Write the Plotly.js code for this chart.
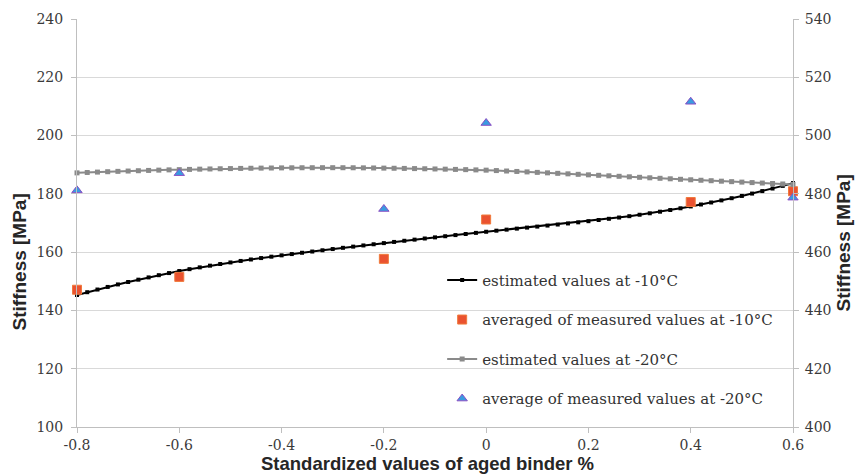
<!DOCTYPE html>
<html>
<head>
<meta charset="utf-8">
<script src="https://cdn.plot.ly/plotly-3.0.1.min.js"></script>
<style>html,body{margin:0;padding:0;background:#fff;}#chart{width:859px;height:475px;}</style>
</head>
<body>
<div id="chart"></div>
<script>
// x positions of the estimated-curve markers (standardized aged binder %)
const estX = [-0.80,-0.78,-0.76,-0.74,-0.72,-0.70,-0.68,-0.66,-0.64,-0.62,
  -0.60,-0.58,-0.56,-0.54,-0.52,-0.50,-0.48,-0.46,-0.44,-0.42,
  -0.40,-0.38,-0.36,-0.34,-0.32,-0.30,-0.28,-0.26,-0.24,-0.22,
  -0.20,-0.18,-0.16,-0.14,-0.12,-0.10,-0.08,-0.06,-0.04,-0.02,
  0.00,0.02,0.04,0.06,0.08,0.10,0.12,0.14,0.16,0.18,
  0.20,0.22,0.24,0.26,0.28,0.30,0.32,0.34,0.36,0.38,
  0.40,0.42,0.44,0.46,0.48,0.50,0.52,0.54,0.56,0.58,0.60];

// estimated values at -10°C (left axis, MPa)
const est10 = [145.30,146.25,147.17,148.06,148.92,149.75,150.55,151.33,152.09,152.82,
  153.52,154.16,154.77,155.36,155.92,156.46,156.98,157.48,157.97,158.44,
  158.90,159.34,159.78,160.21,160.64,161.06,161.48,161.89,162.30,162.70,
  163.10,163.50,163.90,164.29,164.68,165.07,165.46,165.85,166.23,166.61,
  166.99,167.36,167.72,168.07,168.42,168.77,169.12,169.48,169.85,170.23,
  170.62,171.02,171.44,171.88,172.34,172.83,173.34,173.88,174.45,175.05,
  175.69,176.35,177.04,177.76,178.51,179.29,180.10,180.95,181.83,182.74,183.69];

// estimated values at -20°C (right axis, MPa)
const est20 = [487.20,487.34,487.47,487.60,487.72,487.83,487.94,488.04,488.14,488.23,
  488.31,488.39,488.47,488.54,488.61,488.67,488.73,488.78,488.83,488.87,
  488.91,488.94,488.96,488.97,488.98,488.98,488.97,488.95,488.92,488.88,
  488.83,488.78,488.73,488.67,488.61,488.54,488.47,488.39,488.31,488.22,
  488.13,487.99,487.84,487.69,487.53,487.37,487.21,487.04,486.87,486.70,
  486.53,486.36,486.19,486.02,485.85,485.68,485.51,485.34,485.17,485.00,
  484.83,484.67,484.51,484.35,484.19,484.03,483.87,483.71,483.55,483.39,483.23];

// measured averages
const measX = [-0.8,-0.6,-0.2,0.0,0.4,0.6];
const meas10 = [147.1,151.5,157.7,171.2,177.2,180.9];   // left axis
const meas20 = [481.2,487.1,474.8,504.3,511.6,478.7];   // right axis

const xTickVals = [-0.8,-0.6,-0.4,-0.2,0,0.2,0.4,0.6];
const xTickText = ["-0.8","-0.6","-0.4","-0.2","0","0.2","0.4","0.6"];
const yTickVals = [100,120,140,160,180,200,220,240];
const y2TickVals = [400,420,440,460,480,500,520,540];

const names = ["estimated values at -10°C","averaged of measured values at -10°C",
  "estimated values at -20°C","average of measured values at -20°C"];
const xTitle = "Standardized values of aged binder %";
const yTitle = "Stiffness [MPa]";

const serif = "'DejaVu Serif', serif";
function tickFont(){ return {family:serif, size:14, color:"#3a3a3a"}; }
function titleFont(sz){ return {family:"'Liberation Sans Narrow', 'Liberation Sans', sans-serif", size:sz, color:"#262626", weight:700}; }
function axisCommon(){ return {showline:true, linecolor:"#bfbfbf", linewidth:1, ticks:"outside", ticklen:5, tickcolor:"#bfbfbf",
  zeroline:false, tickfont:tickFont()}; }

const traces = [
  {x:estX, y:est10, name:names[0], legendgroup:"a", type:"scatter", mode:"lines+markers", yaxis:"y", cliponaxis:false,
   line:{color:"#000000", width:2}, marker:{symbol:"square", size:4, color:"#000000"}},
  {x:measX, y:meas10, name:names[1], legendgroup:"b", type:"scatter", mode:"markers", yaxis:"y", cliponaxis:false,
   marker:{symbol:"square", size:9, color:"#ea5230", line:{color:"#f07a3c", width:1}}},
  {x:estX, y:est20, name:names[2], legendgroup:"c", type:"scatter", mode:"lines+markers", yaxis:"y2", cliponaxis:false,
   line:{color:"#8a8a8a", width:2}, marker:{symbol:"square", size:5, color:"#8a8a8a"}},
  {x:measX, y:meas20, name:names[3], legendgroup:"d", type:"scatter", mode:"markers", yaxis:"y2", cliponaxis:false,
   marker:{symbol:"triangle-up", size:9, color:"#3a9be0", line:{color:"#8a4fc4", width:1}}}
];

const layout = {
  width:859, height:475,
  margin:{l:77, r:66, t:19, b:48},
  paper_bgcolor:"#ffffff", plot_bgcolor:"#ffffff",
  showlegend:true,
  legend:{x:0.51, y:0.40, xanchor:"left", yanchor:"top", bgcolor:"rgba(0,0,0,0)",
    font:{family:serif, size:15, color:"#333333"}, tracegroupgap:17, itemwidth:30, traceorder:"grouped"},
  xaxis:Object.assign(axisCommon(), {range:[-0.8,0.6], tickmode:"array", tickvals:xTickVals, ticktext:xTickText,
    showgrid:false, ticklabelstandoff:0}),
  yaxis:Object.assign(axisCommon(), {range:[100,240], tickmode:"array", tickvals:yTickVals, ticklabelstandoff:5,
    showgrid:true, gridcolor:"#d9d9d9", gridwidth:1}),
  yaxis2:Object.assign(axisCommon(), {range:[400,540], tickmode:"array", tickvals:y2TickVals, ticklabelstandoff:3,
    overlaying:"y", side:"right", showgrid:false}),
  annotations:[
    {text:xTitle, xref:"paper", yref:"paper", x:0.49, y:-0.089, xanchor:"center", yanchor:"middle",
     showarrow:false, font:titleFont(18.5)},
    {text:yTitle, xref:"paper", yref:"paper", x:-0.08, y:0.405, xanchor:"center", yanchor:"middle",
     textangle:-90, showarrow:false, font:titleFont(19)},
    {text:yTitle, xref:"paper", yref:"paper", x:1.07, y:0.45, xanchor:"center", yanchor:"middle",
     textangle:-90, showarrow:false, font:titleFont(19)}
  ]
};

Plotly.newPlot("chart", traces, layout, {displayModeBar:false, staticPlot:true});
</script>
</body>
</html>
